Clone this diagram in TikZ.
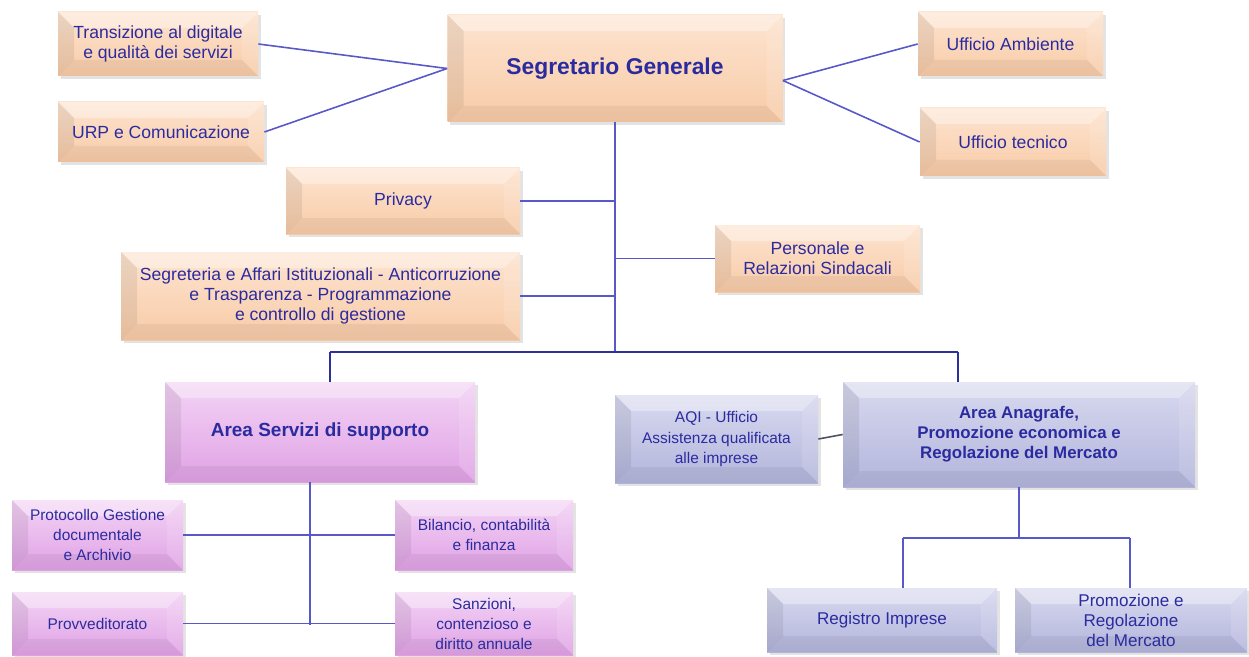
\documentclass[tikz,border=0pt]{standalone}
\usepackage{fontspec}
\setmainfont{Liberation Sans}
\usetikzlibrary{shadows}
\definecolor{ink}{HTML}{2B2BA0}
\definecolor{wire}{HTML}{5858C8}
\definecolor{busblue}{HTML}{2F2F9C}
\definecolor{peach}{HTML}{F8CBA7}
\definecolor{peachtop}{HTML}{FDE4D0}
\definecolor{orchid}{HTML}{E0A2E5}
\definecolor{orchidtop}{HTML}{F3D3F5}
\definecolor{slate}{HTML}{B3B5DC}
\definecolor{slatetop}{HTML}{D8D9EF}
\definecolor{linkgray}{HTML}{4F5060}
\def\bv{0.32cm}

\begin{document}
\begin{tikzpicture}[
  bevel/.style={path picture={
      \coordinate (nw) at (path picture bounding box.north west);
      \coordinate (ne) at (path picture bounding box.north east);
      \coordinate (sw) at (path picture bounding box.south west);
      \coordinate (se) at (path picture bounding box.south east);
      \fill[white, opacity=.35] (nw) -- (ne) -- ([shift={(-\bv,-\bv)}]ne) -- ([shift={(\bv,-\bv)}]nw) -- cycle;
      \fill[black, opacity=.05] (sw) -- (se) -- ([shift={(-\bv,\bv)}]se) -- ([shift={(\bv,\bv)}]sw) -- cycle;
      \fill[black, opacity=.07] (nw) -- (sw) -- ([shift={(\bv,\bv)}]sw) -- ([shift={(\bv,-\bv)}]nw) -- cycle;
      \fill[white, opacity=.12] (ne) -- (se) -- ([shift={(-\bv,\bv)}]se) -- ([shift={(-\bv,-\bv)}]ne) -- cycle;
  }},
  box/.style={rectangle, bevel, inner sep=2pt, align=center, text=ink,
              drop shadow={opacity=0.22, shadow xshift=1.5pt, shadow yshift=-1.5pt},
              font=\fontsize{10}{11.4}\selectfont},
  staff/.style={box, top color=peachtop, bottom color=peach},
  area/.style={box, top color=orchidtop, bottom color=orchid},
  market/.style={box, top color=slatetop, bottom color=slate},
  small/.style={font=\fontsize{8.8}{11.4}\selectfont},
  head/.style={font=\bfseries\fontsize{9.6}{11.4}\selectfont},
  link/.style={draw=wire, line width=0.9pt},
  bus/.style={draw=busblue, line width=1.5pt},
  side/.style={draw=linkgray, line width=0.9pt}
]
\useasboundingbox (0,0) rectangle (24.98,-13.14);

% vertice
\node[staff, font=\bfseries\fontsize{13}{15}\selectfont, minimum width=6.7cm, minimum height=2.14cm] (segr) at (12.3,-1.37) {Segretario Generale};
\node[staff, minimum width=4cm, minimum height=1.28cm] (trans) at (3.16,-0.88) {Transizione al digitale\\e qualità dei servizi};
\node[staff, minimum width=4.12cm, minimum height=1.2cm] (urp) at (3.22,-2.64) {URP e Comunicazione};
\node[staff, minimum width=3.7cm, minimum height=1.28cm] (amb) at (20.21,-0.88) {Ufficio Ambiente};
\node[staff, minimum width=3.72cm, minimum height=1.36cm] (tec) at (20.26,-2.84) {Ufficio tecnico};
\node[staff, minimum width=4.68cm, minimum height=1.32cm] (priv) at (8.06,-4.02) {Privacy};
\node[staff, minimum width=4.1cm, minimum height=1.34cm] (pers) at (16.35,-5.17) {Personale e\\Relazioni Sindacali};
\node[staff, minimum width=7.98cm, minimum height=1.76cm] (segrt) at (6.41,-5.92) {Segreteria e Affari Istituzionali - Anticorruzione\\e Trasparenza - Programmazione\\e controllo di gestione};

% aree
\node[area, head, font=\bfseries\fontsize{10.8}{12}\selectfont, minimum width=6.2cm, minimum height=2cm] (supp) at (6.4,-8.64) {Area Servizi di supporto};
\node[market, small, minimum width=4.06cm, minimum height=1.76cm] (aqi) at (14.33,-8.78) {AQI - Ufficio\\Assistenza qualificata\\alle imprese};
\node[market, head, minimum width=7.04cm, minimum height=2.1cm] (anag) at (20.38,-8.69) {Area Anagrafe,\\Promozione economica e\\Regolazione del Mercato};

% uffici
\node[area, small, minimum width=3.42cm, minimum height=1.4cm] (prot) at (1.95,-10.7) {Protocollo Gestione\\documentale\\e Archivio};
\node[area, small, minimum width=3.56cm, minimum height=1.4cm] (bil) at (9.68,-10.7) {Bilancio, contabilità\\e finanza};
\node[area, small, minimum width=3.42cm, minimum height=1.26cm] (prov) at (1.95,-12.47) {Provveditorato};
\node[area, small, minimum width=3.56cm, minimum height=1.26cm] (sanz) at (9.68,-12.47) {Sanzioni,\\contenzioso e\\diritto annuale};
\node[market, font=\fontsize{9.7}{11.4}\selectfont, minimum width=4.6cm, minimum height=1.28cm] (reg) at (17.64,-12.4) {Registro Imprese};
\node[market, font=\fontsize{9.7}{11.4}\selectfont, minimum width=4.64cm, minimum height=1.28cm] (prom) at (22.62,-12.4) {Promozione e\\Regolazione\\del Mercato};

\coordinate (busL) at (6.6,-7.04);
\coordinate (busR) at (19.16,-7.04);
\coordinate (spine) at (6.2,-12.5);
\coordinate (regdrop) at (18.06,-10.76);
\coordinate (promdrop) at (22.6,-10.76);

\draw[link] (trans.east) -- (segr.west);
\draw[link] (urp.east) -- (segr.west);
\draw[link] (amb.west) -- ([yshift=-0.24cm]segr.east);
\draw[link] (tec.west) -- ([yshift=-0.24cm]segr.east);
\draw[link, line width=1.2pt] (segr.south) -- (segr.south |- busL);
\draw[link] (priv.east) -- (priv.east -| segr.south);
\draw[link] (segrt.east) -- (segrt.east -| segr.south);
\draw[link] (pers.west) -- (pers.west -| segr.south);
\draw[bus] (busL) -- (busR);
\draw[bus] (busL) -- (busL |- supp.north);
\draw[bus] (busR) -- (busR |- anag.north);
\draw[side] (aqi.east) -- (anag.west);
\draw[link] (spine |- supp.south) -- (spine);
\draw[link] (prot.east) -- (bil.west);
\draw[link] (prov.east) -- (sanz.west);
\draw[link] (anag.south) -- (anag.south |- regdrop);
\draw[link] (regdrop) -- (promdrop);
\draw[link] (regdrop) -- (regdrop |- reg.north);
\draw[link] (promdrop) -- (promdrop |- prom.north);

\end{tikzpicture}
\end{document}
